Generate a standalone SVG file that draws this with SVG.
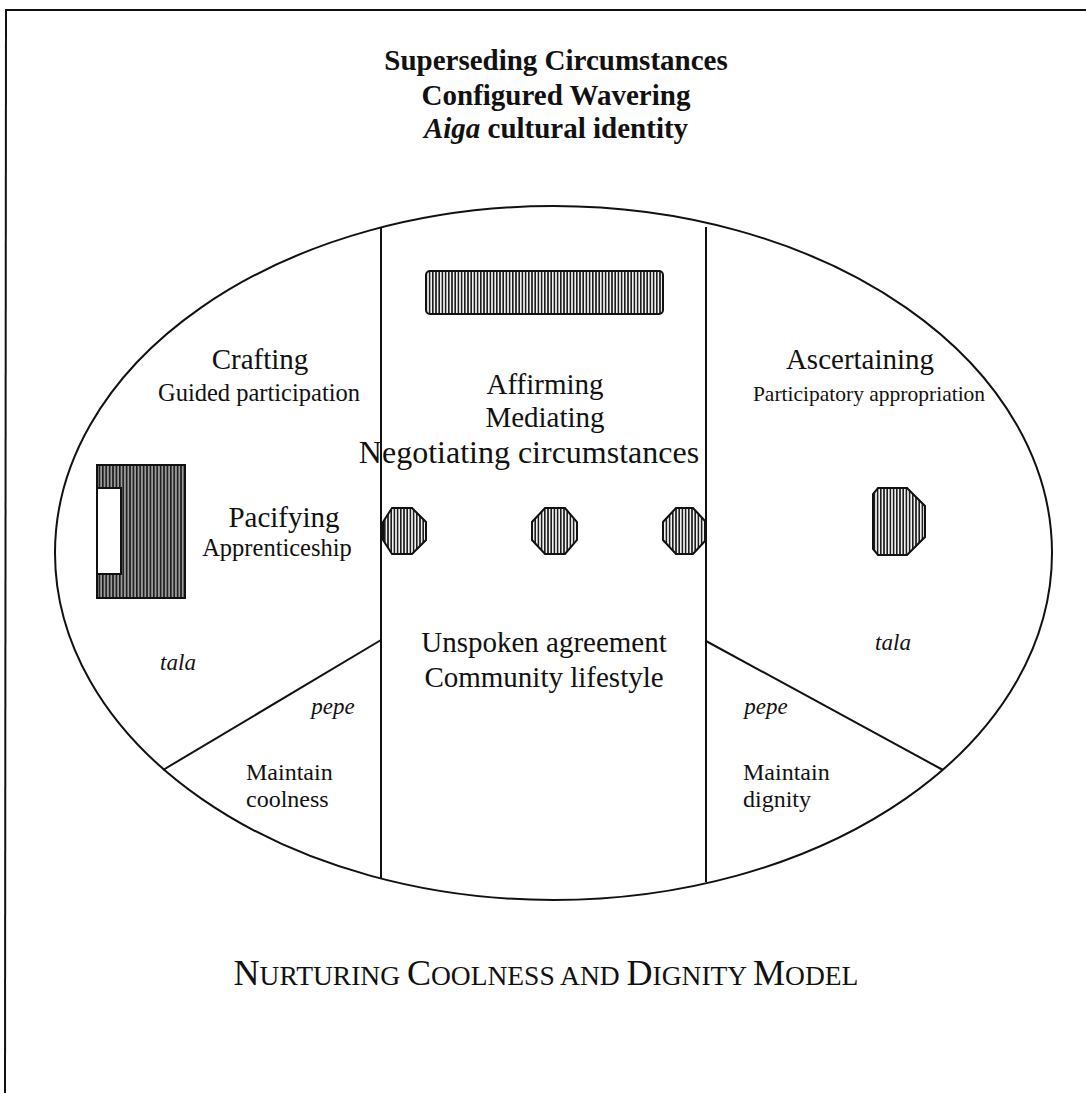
<svg xmlns="http://www.w3.org/2000/svg" width="1086" height="1093" viewBox="0 0 1086 1093">
  <style>
    text { font-family: "Liberation Serif", "Times New Roman", serif; fill: #111; }
    .head { font-size: 29px; font-weight: bold; text-anchor: middle; }
    .big { font-size: 29px; text-anchor: middle; }
    .sub { font-size: 24.5px; text-anchor: middle; }
    .small { font-size: 24px; }
    .it { font-style: italic; font-size: 23px; }
    .line { stroke: #111; stroke-width: 2; fill: none; }
    .shape { stroke: #111; stroke-width: 2; fill: url(#hatch); }
  </style>
  <defs>
    <pattern id="hatch" width="3.2" height="10" patternUnits="userSpaceOnUse">
      <rect width="3.2" height="10" fill="#f0f0f0"/>
      <rect width="1.6" height="10" fill="#1e1e1e"/>
    </pattern>
    <pattern id="hatchDark" width="3.4" height="10" patternUnits="userSpaceOnUse">
      <rect width="3.4" height="10" fill="#9a9a9a"/>
      <rect width="1.6" height="10" fill="#1a1a1a"/>
    </pattern>
  </defs>

  <rect width="1086" height="1093" fill="#fff"/>

  <!-- page frame: top and left rules only -->
  <g id="frame">
    <line class="line" x1="5" y1="10" x2="1086" y2="10"/>
    <line class="line" x1="6" y1="10" x2="5" y2="1093"/>
  </g>

  <!-- heading -->
  <g id="heading">
    <text class="head" x="556" y="70">Superseding Circumstances</text>
    <text class="head" x="556" y="105">Configured Wavering</text>
    <text class="head" x="556" y="138"><tspan font-style="italic">Aiga</tspan> cultural identity</text>
  </g>

  <!-- outer ellipse -->
  <g id="ellipse">
    <ellipse class="line" cx="553.5" cy="553" rx="498.5" ry="347"/>
  </g>

  <!-- dividers between regions -->
  <g id="connectors">
    <line class="line" x1="381" y1="228" x2="381" y2="878"/>
    <line class="line" x1="706" y1="227" x2="706" y2="882"/>
    <line class="line" x1="381" y1="640" x2="163" y2="770"/>
    <line class="line" x1="706" y1="641" x2="943" y2="770"/>
  </g>

  <!-- hatched bar at top of centre column -->
  <g id="bar">
    <rect class="shape" x="426" y="271" width="237" height="43" rx="4"/>
  </g>

  <!-- left block with white inset -->
  <g id="block">
    <rect x="97" y="465" width="88" height="133" fill="url(#hatchDark)" stroke="#111" stroke-width="2"/>
    <line class="line" x1="185" y1="465" x2="185" y2="598" stroke-width="3"/>
    <rect x="97" y="488" width="24" height="86" fill="#fff" stroke="#111" stroke-width="2"/>
  </g>

  <!-- octagons -->
  <g id="oct1">
    <polygon class="shape" points="392,508 412,508 426,522 426,540 412,554 392,554 383,540 383,522"/>
  </g>
  <g id="oct2">
    <polygon class="shape" points="545,508 565,508 577,522 577,540 565,554 545,554 532,540 532,522"/>
  </g>
  <g id="oct3">
    <polygon class="shape" points="676,508 693,508 705,521 705,541 693,554 676,554 663,540 663,522"/>
  </g>
  <g id="oct4">
    <polygon class="shape" points="878,488 907,488 925,506 925,537 907,555 878,555 873,549 873,494"/>
  </g>

  <!-- left region -->
  <g id="crafting">
    <text class="big" x="260" y="369">Crafting</text>
    <text class="sub" x="259" y="401">Guided participation</text>
  </g>
  <g id="pacifying">
    <text class="big" x="284" y="527">Pacifying</text>
    <text class="sub" x="277" y="556">Apprenticeship</text>
  </g>
  <g id="tala-left">
    <text class="it" x="178" y="670" text-anchor="middle">tala</text>
  </g>
  <g id="pepe-left">
    <text class="it" x="333" y="714" text-anchor="middle">pepe</text>
  </g>
  <g id="coolness">
    <text class="small" x="246" y="780">Maintain</text>
    <text class="small" x="246" y="807">coolness</text>
  </g>

  <!-- centre column -->
  <g id="affirming">
    <text class="big" x="545" y="394">Affirming</text>
    <text class="big" x="545" y="427">Mediating</text>
    <text class="big" x="529" y="463" style="font-size:32px">Negotiating circumstances</text>
  </g>
  <g id="agreement">
    <text class="big" x="544" y="652">Unspoken agreement</text>
    <text class="big" x="544" y="687">Community lifestyle</text>
  </g>

  <!-- right region -->
  <g id="ascertaining">
    <text class="big" x="860" y="369">Ascertaining</text>
    <text class="sub" x="869" y="401" style="font-size:21.5px">Participatory appropriation</text>
  </g>
  <g id="tala-right">
    <text class="it" x="893" y="650" text-anchor="middle">tala</text>
  </g>
  <g id="pepe-right">
    <text class="it" x="766" y="714" text-anchor="middle">pepe</text>
  </g>
  <g id="dignity">
    <text class="small" x="743" y="780">Maintain</text>
    <text class="small" x="743" y="807">dignity</text>
  </g>

  <!-- model title -->
  <g id="title">
    <text x="546" y="985" text-anchor="middle" font-size="36"><tspan>N</tspan><tspan font-size="27.5">URTURING </tspan><tspan>C</tspan><tspan font-size="27.5">OOLNESS AND </tspan><tspan>D</tspan><tspan font-size="27.5">IGNITY </tspan><tspan>M</tspan><tspan font-size="27.5">ODEL</tspan></text>
  </g>
</svg>
